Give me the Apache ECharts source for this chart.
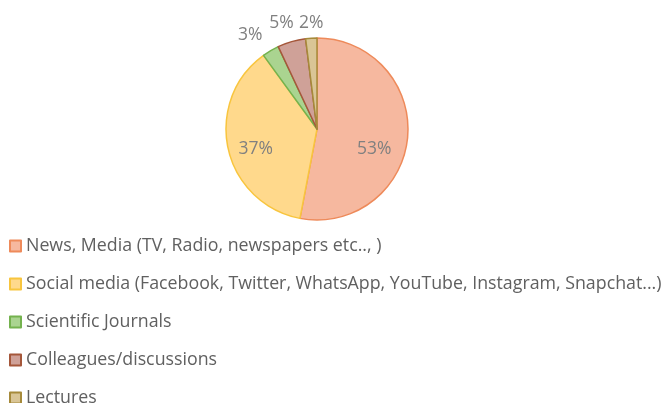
<!DOCTYPE html>
<html><head><meta charset="utf-8">
<script src="https://cdn.jsdelivr.net/npm/echarts@6/dist/echarts.min.js"></script>
<style>html,body{margin:0;padding:0;background:#fff}#c{width:666px;height:403px}</style>
</head><body><div id="c"></div>
<script>
const categories = ["News, Media (TV, Radio, newspapers etc.., )","Social media (Facebook, Twitter, WhatsApp, YouTube, Instagram, Snapchat...)","Scientific Journals","Colleagues/discussions","Lectures"];
const values = [53, 37, 3, 5, 2];
const fills = ["#F6B89F","#FFD98C","#AAD490","#CFA198","#D9C596"];
const borders = ["#EE8A5A","#F8C53E","#74B24E","#A5573A","#A68A3A"];
const labelPos = ["inside","inside","outside","outside","outside"];
const labelOffsets = [[9,15],[-14,9],[4,-4],[11,-5],[18,-1]];

const chart = echarts.init(document.getElementById('c'), null, {renderer:'canvas'});
chart.setOption({
  animation:false,
  legend:{
    orient:'vertical', left:4, top:232, height:230, itemGap:20, itemWidth:11, itemHeight:11, icon:'rect',
    textStyle:{fontFamily:'Open Sans', fontSize:17.8, lineHeight:18, color:'#606060'},
    data:categories
  },
  series:[{
    type:'pie', center:[317,129], radius:91, startAngle:90, clockwise:true,
    avoidLabelOverlap:false,
    labelLayout:{hideOverlap:false},
    labelLine:{show:false, length:14, length2:0},
    data: categories.map((n,i)=>({
      name:n, value:values[i],
      itemStyle:{color:fills[i], borderColor:borders[i], borderWidth:1.5},
      label:{position:labelPos[i], offset:labelOffsets[i]}
    })),
    label:{formatter:'{c}%', fontFamily:'Open Sans', fontSize:17.5, color:'#808080', overflow:'none'}
  }]
});
</script></body></html>
